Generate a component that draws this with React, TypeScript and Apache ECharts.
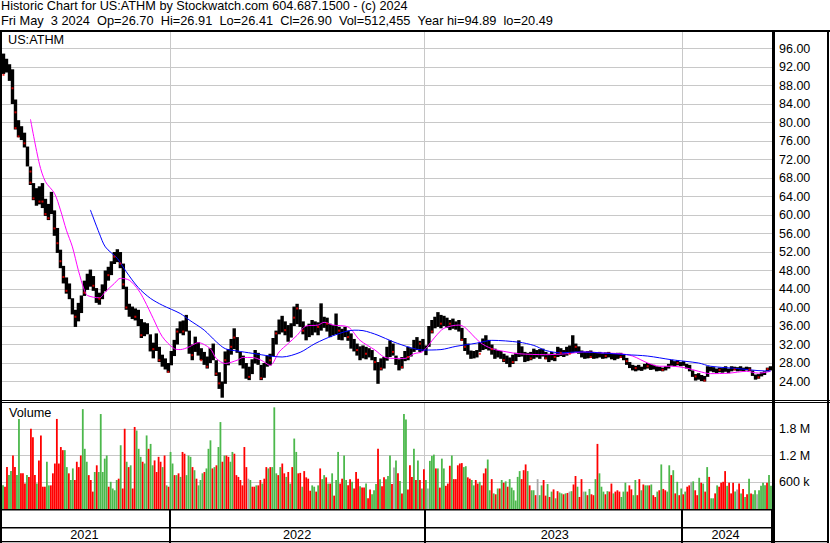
import React, { useEffect, useRef } from 'react';
import * as echarts from 'echarts';

// ---- price bars (one bar per ~3 trading days): low / high ----
const priceLo = [
  90.5, 90.8, 89.0, 84.0, 78.5, 76.8, 76.2, 74.6, 70.5, 66.5,
  63.2, 62.0, 62.3, 61.5, 59.8, 58.9, 60.2, 55.5, 51.8, 48.5,
  45.2, 43.0, 41.8, 38.5, 35.8, 37.0, 38.8, 42.5, 43.8, 44.5,
  43.6, 41.0, 40.6, 41.8, 43.5, 45.8, 47.0, 49.4, 49.8, 48.5,
  44.0, 39.5, 38.0, 37.5, 37.2, 36.0, 33.4, 33.8, 34.2, 30.5,
  29.0, 30.6, 28.2, 27.2, 26.6, 25.9, 27.5, 29.5, 32.0, 34.4,
  34.0, 34.8, 30.0, 28.6, 30.4, 29.6, 28.6, 27.6, 26.8, 28.0,
  28.6, 25.2, 22.4, 20.5, 23.5, 27.5, 29.8, 31.0, 30.2, 27.5,
  26.8, 24.6, 24.3, 25.6, 27.9, 27.6, 24.3, 24.8, 27.2, 27.5,
  29.5, 32.0, 34.2, 34.6, 34.0, 32.6, 33.5, 36.0, 36.4, 35.8,
  34.2, 32.9, 33.6, 34.0, 34.6, 34.0, 35.0, 35.6, 34.8, 33.6,
  34.0, 34.2, 33.0, 32.9, 33.6, 32.8, 31.1, 30.5, 29.6, 28.6,
  29.0, 28.8, 29.2, 28.6, 26.4, 23.5, 26.4, 26.8, 28.5, 29.3,
  29.6, 27.6, 26.4, 26.8, 28.4, 28.6, 29.4, 30.4, 30.8, 30.4,
  30.6, 29.7, 31.5, 34.4, 35.5, 35.8, 35.5, 36.0, 35.6, 35.1,
  35.4, 35.2, 34.8, 32.8, 30.6, 29.8, 28.9, 29.0, 29.2, 30.4,
  30.8, 31.0, 30.7, 29.8, 28.9, 29.2, 28.9, 28.2, 27.8, 27.1,
  27.8, 28.4, 29.3, 29.4, 28.2, 28.4, 28.6, 28.9, 29.2, 28.9,
  29.4, 28.8, 28.2, 28.6, 28.4, 29.3, 29.5, 29.3, 29.6, 30.0,
  30.2, 30.4, 30.0, 29.2, 28.9, 29.0, 29.1, 28.9, 29.0, 29.2,
  28.9, 29.0, 29.2, 28.8, 28.6, 28.9, 29.1, 28.6, 27.6, 26.9,
  26.4, 26.2, 26.4, 26.3, 26.6, 26.8, 26.5, 26.6, 26.2, 26.3,
  26.2, 26.4, 26.8, 27.4, 27.3, 27.5, 27.3, 27.4, 26.8, 26.2,
  25.0, 24.2, 24.4, 24.1, 24.0, 25.0, 26.2, 26.0, 25.8, 26.0,
  25.9, 26.1, 25.8, 26.2, 26.4, 26.2, 26.3, 26.2, 26.4, 26.3,
  25.2, 24.4, 24.6, 25.1, 25.4, 26.2, 26.4,
];
const priceHi = [
  94.9, 93.8, 92.6, 91.5, 85.0, 80.5, 79.2, 77.8, 74.8, 70.5,
  66.9, 65.8, 66.2, 66.9, 63.5, 62.4, 65.0, 61.0, 57.2, 52.5,
  49.0, 46.5, 45.2, 42.0, 39.5, 41.0, 42.6, 45.8, 47.3, 48.2,
  46.8, 44.2, 43.2, 45.0, 48.0, 48.8, 50.0, 52.0, 52.6, 52.0,
  49.5, 44.5, 40.8, 40.2, 39.8, 39.5, 37.5, 36.8, 36.6, 34.2,
  32.4, 34.4, 31.5, 29.8, 29.0, 28.0, 30.6, 33.0, 35.5, 37.0,
  37.2, 38.4, 35.0, 32.0, 33.7, 32.5, 31.2, 30.4, 29.4, 31.2,
  32.2, 28.6, 26.0, 24.0, 30.5, 31.0, 33.2, 35.5, 33.6, 30.4,
  29.6, 28.0, 27.2, 28.8, 30.8, 30.2, 27.6, 28.0, 29.6, 30.0,
  33.4, 35.0, 37.4, 38.2, 37.0, 36.2, 36.6, 40.2, 40.8, 39.6,
  37.0, 36.0, 36.5, 37.3, 37.0, 36.8, 40.9, 38.0, 37.8, 36.5,
  36.2, 38.7, 35.8, 35.4, 35.8, 35.0, 34.4, 33.2, 32.2, 31.6,
  31.8, 31.5, 31.2, 30.8, 29.3, 28.2, 29.0, 29.3, 31.5, 32.9,
  32.2, 29.6, 28.8, 29.3, 30.6, 31.5, 31.2, 33.0, 33.6, 32.8,
  33.2, 31.8, 36.0, 37.3, 38.0, 39.0, 38.4, 38.2, 37.8, 37.3,
  37.6, 37.0, 37.3, 35.6, 33.4, 32.2, 30.7, 30.6, 30.8, 32.4,
  33.3, 34.0, 33.0, 32.0, 31.1, 30.8, 30.6, 30.0, 29.6, 29.2,
  29.8, 30.2, 32.9, 31.6, 30.4, 30.2, 30.4, 31.1, 30.8, 31.0,
  31.1, 30.4, 30.0, 30.4, 30.0, 31.5, 31.2, 30.8, 31.5, 31.8,
  34.0, 32.2, 31.6, 30.7, 30.4, 30.6, 30.7, 30.4, 30.2, 30.4,
  30.1, 30.3, 30.4, 30.0, 30.0, 30.2, 30.2, 29.8, 29.1, 28.2,
  27.6, 27.4, 27.6, 27.2, 27.8, 28.0, 27.8, 27.6, 27.3, 27.2,
  27.0, 27.3, 27.8, 28.7, 28.4, 28.6, 28.2, 28.4, 27.8, 27.6,
  26.4, 25.6, 25.8, 25.4, 25.2, 27.3, 27.2, 27.1, 26.8, 27.0,
  26.9, 27.3, 26.8, 27.3, 27.2, 27.1, 27.3, 27.0, 27.2, 27.1,
  26.4, 25.5, 25.6, 26.0, 26.2, 27.0, 27.3,
];

// ---- red close marks: [bar index, price] ----
const redMarks = [
  [0, 90.3], [3, 87.4], [4, 82.2], [4, 78.8], [5, 77.0], [7, 75.5], [9, 69.4], [9, 67.0],
  [10, 63.6], [12, 62.9], [13, 62.9], [14, 60.2], [15, 59.3], [17, 57.1], [18, 53.9], [19, 50.0],
  [20, 46.6], [21, 43.6], [24, 38.0], [27, 43.2], [30, 44.7], [32, 41.9], [35, 47.0], [37, 51.0],
  [39, 49.5], [40, 45.0], [41, 40.0], [44, 38.0], [46, 34.0], [50, 31.0], [52, 28.6], [55, 26.1],
  [58, 34.8], [60, 34.8], [63, 29.7], [66, 28.6], [68, 27.2], [71, 25.7], [72, 23.6], [74, 28.6],
  [76, 31.5], [77, 33.5], [82, 25.0], [86, 24.7], [89, 28.6], [91, 34.4], [94, 35.1], [97, 37.8],
  [98, 39.8], [100, 35.0], [105, 35.8], [108, 36.5], [112, 35.0], [115, 33.6], [118, 30.8], [121, 30.0],
  [124, 28.2], [126, 26.8], [130, 30.4], [133, 27.1], [135, 29.3], [139, 32.2], [143, 34.8], [146, 36.5],
  [149, 36.5], [153, 33.0], [154, 31.5], [159, 30.0], [163, 31.0], [167, 28.6], [170, 28.2], [176, 29.0],
  [181, 29.0], [184, 29.3], [186, 30.2], [189, 30.0], [191, 31.5], [196, 29.3], [201, 29.5], [206, 29.3],
  [208, 28.4], [211, 26.9], [215, 27.3], [220, 26.5], [225, 28.0], [231, 25.1], [234, 24.2], [239, 26.5],
  [244, 26.6], [249, 26.6], [252, 24.9], [255, 26.7],
];

// ---- moving averages: [bar index, price] ----
const ma50 = [
  [9, 80.7], [12, 71.0], [14, 67.2], [17, 64.7], [19, 61.1], [21, 56.7], [23, 53.1], [25, 48.0],
  [27, 43.7], [28, 42.6], [32, 42.1], [34, 43.4], [37, 45.2], [39, 46.3], [42, 45.9], [45, 43.8],
  [47, 41.6], [50, 37.6], [53, 33.7], [57, 31.1], [59, 30.9], [62, 31.5], [65, 32.4], [69, 31.1],
  [71, 29.0], [74, 27.9], [78, 28.6], [80, 29.2], [83, 29.2], [86, 28.6], [89, 27.5], [92, 30.4],
  [95, 32.2], [98, 34.0], [101, 36.0], [105, 36.2], [107, 36.8], [110, 36.2], [115, 35.8], [119, 32.9],
  [124, 30.8], [127, 29.3], [130, 29.0], [134, 29.0], [137, 30.0], [140, 30.5], [144, 33.6], [147, 35.5],
  [152, 36.2], [154, 35.7], [159, 32.5], [163, 31.1], [168, 30.4], [172, 30.0], [181, 29.8], [188, 30.0],
  [194, 30.4], [199, 30.2], [206, 30.0], [210, 29.5], [215, 28.0], [219, 27.3], [223, 27.3], [228, 26.9],
  [232, 26.2], [236, 25.7], [242, 25.8], [248, 26.2], [252, 25.8], [256, 26.2],
];
const ma200 = [
  [29, 61.1], [32, 56.0], [34, 53.1], [38, 50.6], [41, 47.7], [45, 44.3], [49, 42.0], [53, 40.5],
  [59, 38.7], [62, 37.3], [67, 35.1], [71, 32.6], [74, 31.1], [78, 30.6], [83, 30.1], [89, 29.5],
  [93, 29.3], [99, 30.3], [104, 32.2], [110, 33.9], [117, 35.1], [120, 35.0], [125, 34.0], [130, 32.6],
  [136, 31.3], [140, 30.8], [146, 30.9], [151, 31.6], [158, 32.3], [163, 32.9], [172, 32.5], [177, 31.8],
  [181, 30.7], [186, 30.2], [192, 30.4], [199, 30.2], [208, 29.8], [215, 29.5], [223, 28.7], [232, 28.0],
  [236, 27.3], [245, 26.8], [254, 26.3], [256, 26.3],
];

// ---- volume (units of 10k shares) and bar colours: r = down, g = up, x = unchanged ----
const volume = [
  53, 50, 94, 76, 85, 120, 94, 76, 202, 80,
  80, 57, 76, 72, 180, 161, 76, 57, 109, 165,
  50, 50, 106, 53, 53, 80, 102, 202, 102, 139,
  132, 132, 94, 80, 65, 91, 65, 106, 94, 120,
  224, 135, 106, 76, 65, 39, 83, 98, 83, 213,
  83, 113, 120, 50, 61, 46, 42, 65, 68, 143,
  46, 180, 106, 94, 98, 46, 184, 176, 135, 117,
  106, 102, 165, 135, 146, 98, 109, 83, 117, 106,
  94, 120, 53, 50, 128, 102, 76, 76, 80, 72,
  128, 124, 76, 120, 117, 94, 87, 68, 53, 65,
  80, 83, 91, 135, 154, 91, 94, 98, 139, 195,
  106, 120, 120, 117, 106, 128, 124, 76, 72, 65,
  53, 139, 94, 68, 65, 50, 50, 53, 53, 65,
  57, 68, 94, 91, 94, 94, 228, 80, 76, 94,
  102, 80, 72, 83, 57, 94, 158, 128, 80,
  81, 50, 85, 71, 68, 41, 53, 50, 39, 53,
  91, 67, 76, 71, 57, 57, 80, 30, 65, 128,
  57, 68, 120, 65, 53, 67, 61, 46, 83, 68,
  51, 48, 48, 57, 24, 44, 33, 42, 56, 135,
  67, 51, 71, 67, 74, 120, 56, 93, 109, 80,
  63, 35, 213, 201, 44, 98, 72, 135, 65, 109,
  65, 46, 89, 65, 46, 108, 119, 122, 91, 91,
  48, 113, 91, 52, 57, 97, 120, 67, 67, 98,
  102, 103, 94, 96, 71, 68, 65, 53, 65, 57,
  61, 53, 80, 91, 111, 42, 67, 35, 33, 46,
  46, 65, 59, 62, 50, 67, 48, 42, 19, 72,
  85, 67, 87, 100, 85, 53, 42, 42, 31, 67,
  31, 53, 65, 30, 56, 27,
  39, 44, 24, 40, 37, 35, 33, 35, 36, 39,
  40, 55, 74, 50, 27, 67, 39, 39, 31, 45,
  33, 31, 67, 146, 80, 50, 39, 33, 40, 39,
  57, 35, 39, 42, 39, 27, 39, 59, 39, 53,
  44, 31, 65, 31, 67, 42, 55, 53, 53, 53,
  55, 31, 27, 39, 42, 100, 45, 42, 39, 98,
  76, 87, 35, 61, 31, 46, 33, 39, 50, 53,
  61, 62, 42, 31, 70, 59, 57, 39, 94, 72,
  24, 24, 35, 53, 50, 59, 61, 85, 52, 59,
  35, 59, 39, 44, 57, 35, 45, 27, 33, 68,
  35, 33, 42, 33, 42, 52, 59, 53, 59, 76, 52,
];
const volumeDir = [
  'grrggrrggr', 'rrgrrrrgrr', 'rrggrrrrrr', 'rggrggrrrr', 'gggrrrgrgg',
  'gggrggggrg', 'rrgrgrrggg', 'rggrggrrrr', 'grgrggrgrg', 'rrgggrgrgg',
  'grgggrgrgg', 'rgrrggrrrr', 'rrrxgrrgrr', 'grrgrgggrg', 'rrgrgrggr',
  'rgrrrrggrg', 'rggrgrgrgg', 'rrggrrgrrr', 'grrgrrgggr', 'grrgggrxgr',
  'grggrrrgrg', 'rgrgxgggrg', 'rggrrrgrrr', 'rrggrrggrr', 'grrrggrgrg',
  'rgrgrggggg', 'grrrgrggrx', 'ggrrgr',
  'grgrggrgrx', 'grrgrrxgrg', 'rrgrgggrgr', 'rgrrrgggrr', 'rggrrgrggr',
  'grrgrgrrgg', 'rgrgrgrgrr', 'xgrrgrgrgr', 'ggrgrrrrgr', 'rrgxrgrgrg',
  'rggxggggrgg',
].join('');

// ---- axis / calendar ----
const yearNames = ['2021', '2022', '2023', '2024'];
const yearStartIdx = [0, 56, 141, 227];
const yearLabelIdx = [27, 98, 184, 241];
const volumeTickText: Record<number, string> = { 60: '600 k', 120: '1.2 M', 180: '1.8 M' };

const headerLine1 = 'Historic Chart for US:ATHM by Stockwatch.com 604.687.1500 - (c) 2024';
const headerLine2 =
  'Fri May \u00a03 2024 \u00a0Op=26.70 \u00a0Hi=26.91 \u00a0Lo=26.41 \u00a0Cl=26.90 \u00a0Vol=512,455 \u00a0Year hi=94.89 \u00a0lo=20.49';

const FONT = "'Liberation Sans', Arial, sans-serif";

export default function App() {
  const ref = useRef<HTMLDivElement>(null);

  useEffect(() => {
    if (!ref.current) return;
    const chart = echarts.init(ref.current, null, { renderer: 'svg' });

    const n = priceLo.length;
    const cats = Array.from({ length: n }, (_, i) => {
      let k = 0;
      for (let j = 0; j < yearStartIdx.length; j++) if (i >= yearStartIdx[j]) k = j;
      return yearNames[k];
    });
    const volCats = volume.map((_, i) => 'v' + i);
    const dirColor: Record<string, string> = { r: '#ff0000', g: '#4cb84c', x: '#a8a8a8' };
    const isYearStart = (idx: number) => yearStartIdx.indexOf(idx) > 0;

    const black = '#000000';
    const rect = (x: number, y: number, w: number, h: number) => ({
      type: 'rect', z: 100, silent: true,
      shape: { x, y, width: w, height: h },
      style: { fill: black },
    });
    const text = (x: number, y: number, t: string, size = 12.7) => ({
      type: 'text', z: 101, silent: true, x, y,
      style: { text: t, fill: black, font: `${size}px ${FONT}`, verticalAlign: 'middle', align: 'left' },
    });

    const gray = '#c8c8c8';

    chart.setOption({
      animation: false,
      backgroundColor: '#ffffff',
      grid: [
        { left: 2, top: 30, width: 770, height: 370 },
        { left: 2, top: 402, width: 770, height: 107 },
        { left: 2, top: 509, width: 770, height: 34 },
      ],
      xAxis: [
        {
          type: 'category', gridIndex: 0, data: cats, boundaryGap: true,
          axisLine: { show: false }, axisTick: { show: false }, axisLabel: { show: false },
          splitLine: { show: true, interval: (i: number) => isYearStart(i), lineStyle: { color: gray, width: 1 } },
        },
        {
          type: 'category', gridIndex: 1, data: cats, boundaryGap: true,
          axisLine: { show: false }, axisTick: { show: false }, axisLabel: { show: false },
          splitLine: { show: true, interval: (i: number) => isYearStart(i), lineStyle: { color: gray, width: 1 } },
        },
        {
          type: 'category', gridIndex: 1, data: volCats, boundaryGap: true, show: false,
        },
        {
          type: 'category', gridIndex: 2, data: cats, boundaryGap: true, position: 'bottom',
          axisLine: { show: false }, axisTick: { show: false },
          axisLabel: {
            show: true, inside: true, margin: 2,
            interval: (i: number) => yearLabelIdx.indexOf(i) >= 0,
            color: black, fontFamily: FONT, fontSize: 12.7,
          },
          splitLine: { show: true, interval: (i: number) => isYearStart(i), lineStyle: { color: black, width: 2 } },
        },
      ],
      yAxis: [
        {
          type: 'value', gridIndex: 0, position: 'right', min: 20, max: 100, interval: 4,
          axisLine: { show: false }, axisTick: { show: false },
          axisLabel: {
            show: true, margin: 7, color: black, fontFamily: FONT, fontSize: 12.5,
            showMinLabel: false, showMaxLabel: false,
            formatter: (v: number) => v.toFixed(2),
          },
          splitLine: { show: true, lineStyle: { color: gray, width: 1 } },
        },
        {
          type: 'value', gridIndex: 1, position: 'right', min: 0, max: 240, interval: 60,
          axisLine: { show: false }, axisTick: { show: false },
          axisLabel: {
            show: true, margin: 7, color: black, fontFamily: FONT, fontSize: 12.5,
            formatter: (v: number) => volumeTickText[v] || '',
          },
          splitLine: { show: true, lineStyle: { color: gray, width: 1 } },
        },
        { type: 'value', gridIndex: 2, show: false, min: 0, max: 1 },
      ],
      series: [
        {
          type: 'custom', name: 'US:ATHM', xAxisIndex: 0, yAxisIndex: 0,
          data: priceLo.map((lo, i) => [i, lo, priceHi[i]]),
          encode: { x: 0, y: [1, 2] },
          renderItem: (params: any, api: any) => {
            const top = api.coord([api.value(0), api.value(2)]);
            const bot = api.coord([api.value(0), api.value(1)]);
            const h = Math.max(1, bot[1] - top[1]);
            return {
              type: 'rect',
              shape: { x: top[0] - 1.7, y: top[1], width: 3.4, height: h },
              style: { fill: black },
            };
          },
          z: 2,
        },
        {
          type: 'scatter', name: 'Close', xAxisIndex: 0, yAxisIndex: 0, data: redMarks,
          symbol: 'rect', symbolSize: [2, 2], itemStyle: { color: '#ff0000' }, z: 4, silent: true,
        },
        {
          type: 'line', name: 'MA50', xAxisIndex: 0, yAxisIndex: 0, data: ma50,
          smooth: 0.3, symbol: 'none', lineStyle: { color: '#ff00ff', width: 1 }, z: 3,
        },
        {
          type: 'line', name: 'MA200', xAxisIndex: 0, yAxisIndex: 0, data: ma200,
          smooth: 0.3, symbol: 'none', lineStyle: { color: '#0000ff', width: 1 }, z: 3,
        },
        {
          type: 'bar', name: 'Volume', xAxisIndex: 2, yAxisIndex: 1,
          barCategoryGap: '10%',
          data: volume.map((v, i) => ({ value: v, itemStyle: { color: dirColor[volumeDir[i]] || dirColor.g } })),
        },
      ],
      graphic: [
        text(1, 5.5, headerLine1),
        text(1, 20.8, headerLine2, 12.8),
        text(8, 40.3, 'US:ATHM'),
        text(9, 413, 'Volume'),
        rect(0, 30, 830, 2),
        rect(0, 400, 830, 1),
        rect(0, 402, 830, 1),
        rect(0, 509, 774, 1.5),
        rect(0, 527, 774, 1.5),
        rect(0, 541, 829, 1.2),
        rect(0, 30, 2, 513),
        rect(772, 30, 3, 513),
        rect(827, 30, 2, 513),
      ],
    });

    return () => chart.dispose();
  }, []);

  return <div ref={ref} style={{ position: 'absolute', left: 0, top: 0, width: 830, height: 543 }} />;
}
